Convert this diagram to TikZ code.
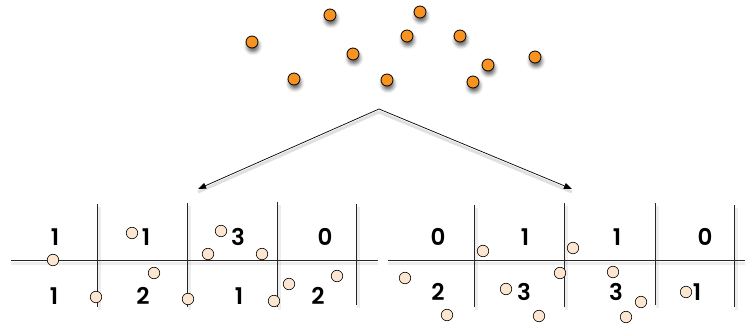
\documentclass[tikz,border=0pt]{standalone}
\usepackage{fontspec}
\setmainfont{Poppins}
\newfontfamily\countfont{Poppins SemiBold}
\usetikzlibrary{arrows.meta,shadows.blur}
\definecolor{dotorange}{HTML}{F7931E}
\definecolor{dotpeach}{HTML}{FCE6CF}
\tikzset{
  point/.style={circle,draw=black,line width=0.8pt,fill=dotorange,minimum size=12pt,inner sep=0pt,
    blur shadow={shadow xshift=1pt,shadow yshift=-4pt,shadow blur radius=3.5pt,shadow opacity=60}},
  sample/.style={circle,draw=black,line width=0.6pt,fill=dotpeach,minimum size=11.5pt,inner sep=0pt},
  count/.style={font=\fontsize{23}{23}\countfont,inner sep=0pt,anchor=center},
  cut/.style={line width=0.8pt,draw=black!85},
  cutshadow/.style={line width=3pt,draw=black,opacity=0.07},
  split/.style={line width=0.7pt,-{Triangle[length=8pt,width=6pt]}}
}
\begin{document}
\begin{tikzpicture}[x=1pt,y=-1pt]
\useasboundingbox (0,0) rectangle (745,326);

% scattered input points
\foreach \n/\px/\py in {a/252/42,b/330/15,c/420/12,d/407/36,e/460/36,f/353/54,
                        g/535/57,h/488/65,i/294/79,j/387/80,k/473/82}
  \node[point] (p\n) at (\px,\py) {};

% branching arrows
\coordinate (apex) at (379,109);
\coordinate (lefttip) at (198,189);
\coordinate (righttip) at (572,189);
\draw[black!12,line width=3pt] ([yshift=-3pt]apex) -- ([yshift=-3pt]lefttip);
\draw[black!12,line width=3pt] ([yshift=-3pt]apex) -- ([yshift=-3pt]righttip);
\draw[split] (apex) -- (lefttip);
\draw[split] (apex) -- (righttip);

% left partition grid
\coordinate (lh1) at (11,260); \coordinate (lh2) at (378,260);
\foreach \x/\t/\b in {97/204/307,187/203/307,277/202/307,356/204/305}{
  \draw[cutshadow] (\x+2,\t+3) -- (\x+2,\b+3);
}
\draw[cutshadow] (11,263) -- (378,263);
\draw[cut] (lh1) -- (lh2);
\foreach \x/\t/\b [count=\k] in {97/204/307,187/203/307,277/202/307,356/204/305}{
  \coordinate (lvt\k) at (\x,\t); \coordinate (lvb\k) at (\x,\b);
  \draw[cut] (lvt\k) -- (lvb\k);
}
\foreach \n/\px/\py/\v in {t1/55/237/1,t2/146/237/1,t3/238/237/3,t4/325/237/0,
                           b1/54/296/1,b2/143/296/2,b3/239/296/1,b4/318/296/2}
  \node[count] (l\n) at (\px,\py) {\v};
\foreach \n/\px/\py in {1/53/260,2/132/233,3/96/297,4/154/273,5/188/299,6/221/231,
                        7/208/254,8/262/254,9/274/301,10/289/284,11/337/276}
  \node[sample] (ls\n) at (\px,\py) {};

% right partition grid
\coordinate (rh1) at (388,260); \coordinate (rh2) at (745,260);
\foreach \x/\t/\b in {474/205/307,564/203/307,655/203/305,734/205/307}{
  \draw[cutshadow] (\x+2,\t+3) -- (\x+2,\b+3);
}
\draw[cutshadow] (388,263) -- (745,263);
\draw[cut] (rh1) -- (rh2);
\foreach \x/\t/\b [count=\k] in {474/205/307,564/203/307,655/203/305,734/205/307}{
  \coordinate (rvt\k) at (\x,\t); \coordinate (rvb\k) at (\x,\b);
  \draw[cut] (rvt\k) -- (rvb\k);
}
\foreach \n/\px/\py/\v in {t1/438/237/0,t2/525/237/1,t3/617/237/1,t4/705/237/0,
                           b1/438/292/2,b2/524/292/3,b3/616/292/3,b4/697/292/1}
  \node[count] (r\n) at (\px,\py) {\v};
\foreach \n/\px/\py in {1/405/278,2/447/315,3/483/251,4/506/289,5/539/316,6/560/273,
                        7/573/248,8/613/272,9/641/302,10/626/317,11/686/292}
  \node[sample] (rs\n) at (\px,\py) {};
\end{tikzpicture}
\end{document}
